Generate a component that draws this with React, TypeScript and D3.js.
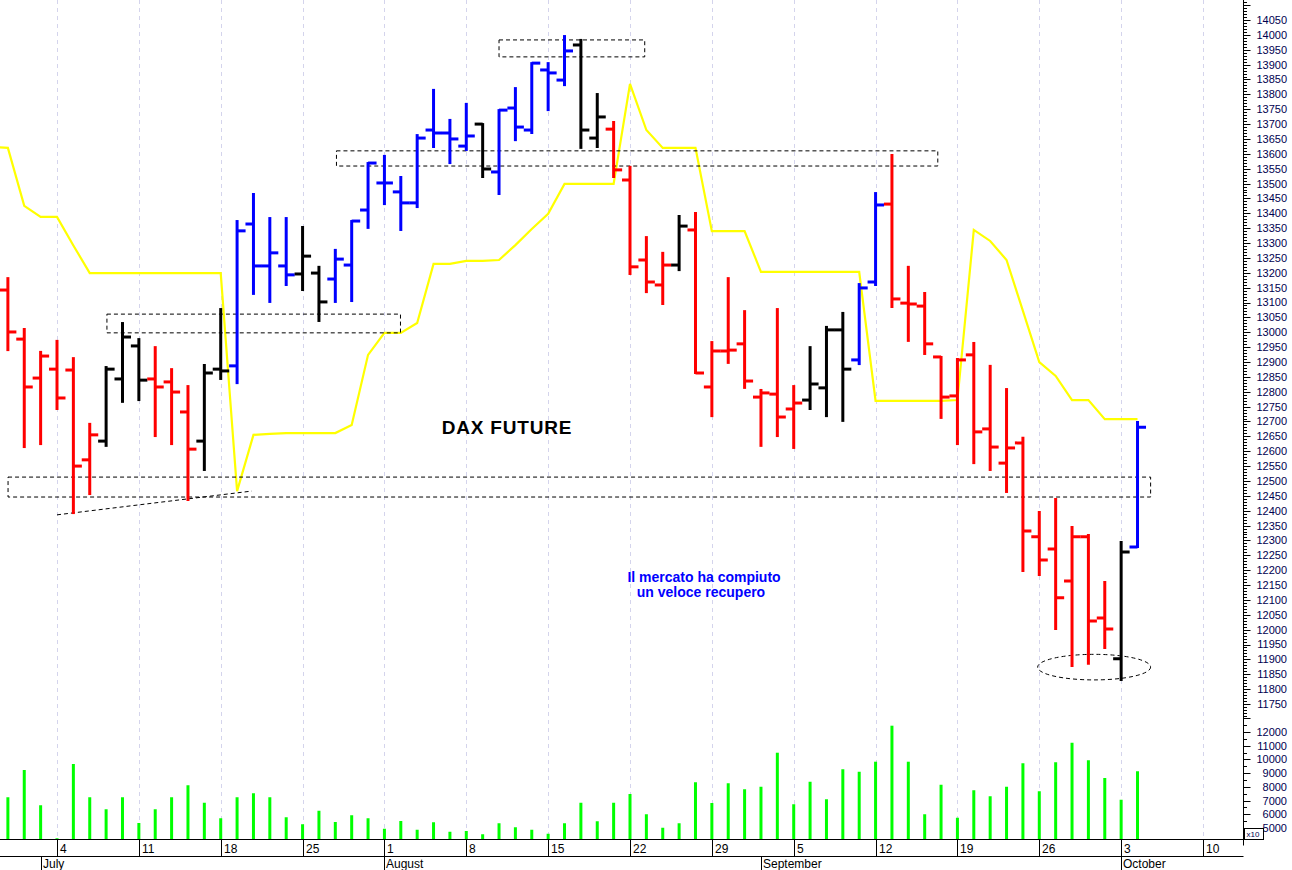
import React from 'react';
import * as d3 from 'd3';

// Trading days (weekdays) from 28 Jun 2022 to 10 Oct 2022
const startDate = new Date(2022, 5, 28);
const endDate = new Date(2022, 9, 11);
const tradingDays: Date[] = d3.timeDay
  .range(startDate, endDate)
  .filter((d) => d.getDay() !== 0 && d.getDay() !== 6);

const openP = [13100, 13142, 12977, 12846, 12876, 12873, 12571, 12634, 12843, 12954, 12843, 12833, 12732, 12634, 12876, 12887, 13364, 13223, 13223, 13196, 13199, 13179, 13226, 13411, 13502, 13472, 13435, 13680, 13670, 13626, 13700, 13539, 13754, 13680, 13882, 13848, 13966, 13653, 13683, 13512, 13243, 13159, 13226, 13344, 12816, 12937, 12961, 12782, 12792, 12742, 12772, 12813, 13008, 12907, 13169, 13431, 13098, 13088, 12917, 12786, 12924, 12675, 12560, 12628, 12312, 12271, 12164, 12312, 12039, 11902, 12278];
const highP = [13200, 13182, 13011, 12934, 12971, 12913, 12692, 12883, 13031, 12977, 12950, 12876, 12819, 12890, 13078, 13374, 13465, 13384, 13384, 13354, 13220, 13277, 13374, 13569, 13593, 13522, 13663, 13815, 13714, 13768, 13700, 13747, 13821, 13905, 13905, 13996, 13983, 13801, 13707, 13556, 13320, 13267, 13391, 13401, 12967, 13182, 13071, 12806, 13078, 12819, 12950, 13018, 13065, 13162, 13468, 13596, 13220, 13132, 12917, 12910, 12964, 12887, 12809, 12645, 12396, 12439, 12345, 12318, 12160, 12295, 12698];
const lowP = [13050, 12940, 12614, 12624, 12742, 12392, 12456, 12618, 12766, 12772, 12651, 12624, 12436, 12537, 12843, 12829, 13129, 13102, 13159, 13142, 13038, 13102, 13105, 13351, 13431, 13344, 13421, 13623, 13569, 13613, 13522, 13465, 13646, 13670, 13747, 13831, 13620, 13623, 13522, 13196, 13135, 13095, 13209, 12863, 12718, 12897, 12813, 12618, 12651, 12611, 12742, 12718, 12702, 12893, 13159, 13085, 12971, 12927, 12712, 12624, 12560, 12537, 12463, 12197, 12184, 12002, 11878, 11885, 11938, 11831, 12278];
const closeP = [13142, 13001, 12816, 12920, 12779, 12550, 12655, 12876, 12984, 12839, 12816, 12799, 12607, 12863, 12870, 13341, 13223, 13267, 13193, 13256, 13102, 13246, 13374, 13569, 13502, 13435, 13653, 13670, 13650, 13660, 13549, 13747, 13690, 13905, 13872, 13946, 13680, 13724, 13546, 13220, 13169, 13226, 13357, 12863, 12937, 12940, 12836, 12796, 12715, 12762, 12826, 13008, 12876, 13149, 13428, 13112, 13095, 12961, 12782, 12907, 12665, 12614, 12611, 12332, 12234, 12107, 12312, 12029, 12002, 12261, 12681];
// bar colour signal: r = red, b = blue, k = black
const signal = 'krrrrrrkkkrrrkkbbbbkkbbbbbbbbbkbbbbbkkrrrrkrrrrrrrkkkbbrrrrrrrrrrrrrrkb'.split('');
const volume = [7000, 7237, 9228, 6652, 4250, 9666, 7237, 6362, 7237, 5363, 6362, 7237, 8112, 6847, 5705, 7237, 7529, 7237, 5778, 5268, 6264, 5435, 5924, 5705, 4947, 5508, 4874, 5413, 4728, 4779, 4538, 5341, 5049, 4874, 4582, 5341, 6847, 5486, 6847, 7478, 5997, 5020, 5340, 8330, 6821, 8258, 7820, 8010, 10490, 6726, 8375, 7091, 9279, 9104, 9834, 12460, 9834, 5997, 8160, 5750, 7747, 7310, 8010, 9717, 7674, 9790, 11220, 9936, 8645, 7062, 9133];
const yellowLine = [13623, 13620, 13425, 13388, 13388, 13292, 13199, 13199, 13199, 13199, 13199, 13199, 13199, 13199, 13199, 12466, 12655, 12658, 12661, 12661, 12661, 12661, 12688, 12924, 12998, 12998, 13031, 13230, 13230, 13240, 13240, 13243, 13293, 13347, 13398, 13499, 13499, 13499, 13499, 13835, 13680, 13620, 13620, 13620, 13340, 13340, 13340, 13203, 13203, 13203, 13203, 13203, 13203, 13203, 12769, 12769, 12769, 12769, 12769, 12772, 13344, 13307, 13243, 13072, 12900, 12853, 12772, 12772, 12708, 12708, 12708];

const priceTicks = d3.range(11750, 14051, 50);
const volumeTicks = d3.range(5000, 12001, 1000);
const monthNames = ['January', 'February', 'March', 'April', 'May', 'June', 'July', 'August', 'September', 'October', 'November', 'December'];

// annotation zones in data units (bar index, price)
const zones = [
  { i0: 31.0, i1: 39.9, p0: 13983, p1: 13926 },
  { i0: 21.07, i1: 57.8, p0: 13610, p1: 13559 },
  { i0: 7.05, i1: 24.98, p0: 13061, p1: 12998 },
  { i0: 1.01, i1: 70.8, p0: 12513, p1: 12446 },
];
const trendLine = { i0: 4, p0: 12386, i1: 15.9, p1: 12466 };
const lowEllipse = { ic: 67.35, pc: 11874, pTop: 11917, i0: 63.9 };

const colorOf: Record<string, string> = { r: '#ff0000', b: '#0000ff', k: '#000000' };

export default function App() {
  const W = 1292;
  const H = 870;
  const axisX = 1243.5;
  const baseY = 839.5;
  const x = d3.scaleLinear().domain([4, 74]).range([57, 1203]);
  const y = d3.scaleLinear().domain([11750, 14050]).range([704, 20]);
  const yv = d3.scaleLinear().domain([5000, 12000]).range([828, 732]);
  const volBase = 4190;

  const weekIdx = tradingDays.map((d, i) => (d.getDay() === 1 ? i : -1)).filter((i) => i >= 0);
  const monthIdx = tradingDays
    .map((d, i) => (i > 0 && d.getMonth() !== tradingDays[i - 1].getMonth() ? i : -1))
    .filter((i) => i >= 0);

  const yellowPath = d3
    .line<number>()
    .x((_, i) => x(i))
    .y((v) => y(v))(yellowLine) as string;

  const minorPrice = d3.range(11710, 14111, 10);
  const minorVol = d3.range(4500, 13001, 500);
  const font = "'Liberation Sans', Arial, sans-serif";

  return (
    <svg width={W} height={H} style={{ position: 'absolute', left: 0, top: 0, background: '#fff' }} fontFamily={font}>
      <defs>
        <clipPath id="plot">
          <rect x={0} y={0} width={axisX} height={baseY} />
        </clipPath>
      </defs>
      <rect x={0} y={0} width={W} height={H} fill="#fff" />
      {/* grid */}
      {weekIdx.map((i) => (
        <line key={'g' + i} x1={Math.round(x(i)) + 0.5} x2={Math.round(x(i)) + 0.5} y1={0} y2={baseY} stroke="#d4d4ec" strokeDasharray="4,4" />
      ))}
      <g clipPath="url(#plot)">
        {/* yellow line */}
        <path d={yellowPath} fill="none" stroke="#ffff00" strokeWidth={2.2} />
        {/* annotations */}
        {zones.map((z, k) => (
          <rect key={'z' + k} x={x(z.i0)} y={y(z.p0)} width={x(z.i1) - x(z.i0)} height={y(z.p1) - y(z.p0)} fill="none" stroke="#000" strokeWidth={1} strokeDasharray="4,3" />
        ))}
        <line x1={x(trendLine.i0)} y1={y(trendLine.p0)} x2={x(trendLine.i1)} y2={y(trendLine.p1)} stroke="#000" strokeWidth={1} strokeDasharray="4,3" />
        <ellipse cx={x(lowEllipse.ic)} cy={y(lowEllipse.pc)} rx={x(lowEllipse.ic) - x(lowEllipse.i0)} ry={y(lowEllipse.pc) - y(lowEllipse.pTop)} fill="none" stroke="#000" strokeWidth={1} strokeDasharray="4,3" />
        {/* OHLC bars */}
        {openP.map((o, i) => {
          const cx = x(i);
          const c = colorOf[signal[i]];
          return (
            <g key={'b' + i} stroke={c} strokeWidth={3}>
              <line x1={cx} x2={cx} y1={y(highP[i]) - 1} y2={y(lowP[i]) + 1} />
              <line x1={cx - 8} x2={cx} y1={y(o)} y2={y(o)} />
              <line x1={cx} x2={cx + 8.5} y1={y(closeP[i])} y2={y(closeP[i])} />
            </g>
          );
        })}
        {/* volume */}
        {volume.map((v, i) => (
          <line key={'v' + i} x1={x(i)} x2={x(i)} y1={yv(volBase)} y2={yv(v)} stroke="#00ff00" strokeWidth={3} />
        ))}
      </g>
      {/* texts */}
      <text x={507} y={434} textAnchor="middle" fontSize={19} fontWeight="bold" letterSpacing={0.8} fill="#000">DAX FUTURE</text>
      <text x={704} y={582} textAnchor="middle" fontSize={14} fontWeight="bold" fill="#0000ff">Il mercato ha compiuto</text>
      <text x={701} y={597} textAnchor="middle" fontSize={14} fontWeight="bold" fill="#0000ff">un veloce recupero</text>

      {/* right axis */}
      <line x1={axisX} x2={axisX} y1={0} y2={baseY + 6} stroke="#000" />
      {minorPrice.map((p) => (
        <line key={'mp' + p} x1={axisX} x2={p % 50 === 0 ? axisX + 7 : axisX + 3.5} y1={Math.round(y(p)) + 0.5} y2={Math.round(y(p)) + 0.5} stroke="#000" />
      ))}
      {priceTicks.map((p) => (
        <text key={'pt' + p} x={1287} y={y(p)} dy="0.36em" textAnchor="end" fontSize={11} fill="#000050">{p}</text>
      ))}
      {minorVol.map((v) => (
        <line key={'mv' + v} x1={axisX} x2={v % 1000 === 0 ? axisX + 7 : axisX + 3.5} y1={Math.round(yv(v)) + 0.5} y2={Math.round(yv(v)) + 0.5} stroke="#000" />
      ))}
      {volumeTicks.map((v) => (
        <text key={'vt' + v} x={1287} y={yv(v)} dy="0.36em" textAnchor="end" fontSize={11} fill="#000050">{v}</text>
      ))}
      <rect x={axisX + 1} y={828.5} width={19} height={11} fill="#fff" stroke="#000" strokeWidth={1} />
      <text x={axisX + 3} y={837} fontSize={8} fill="#000050">x10</text>

      {/* bottom axis */}
      <line x1={0} x2={axisX} y1={baseY} y2={baseY} stroke="#000" />
      <line x1={0} x2={axisX} y1={856.5} y2={856.5} stroke="#000" />
      {weekIdx.map((i) => (
        <g key={'w' + i}>
          <line x1={Math.round(x(i)) + 0.5} x2={Math.round(x(i)) + 0.5} y1={baseY} y2={856.5} stroke="#000" />
          <text x={Math.round(x(i)) + 3} y={853} fontSize={12} fill="#000">{tradingDays[i].getDate()}</text>
        </g>
      ))}
      {monthIdx.map((i) => (
        <g key={'m' + i}>
          <line x1={Math.round(x(i)) + 0.5} x2={Math.round(x(i)) + 0.5} y1={856.5} y2={870} stroke="#000" />
          <text x={Math.round(x(i)) + 2} y={868} fontSize={12} fill="#000">{monthNames[tradingDays[i].getMonth()]}</text>
        </g>
      ))}
    </svg>
  );
}
